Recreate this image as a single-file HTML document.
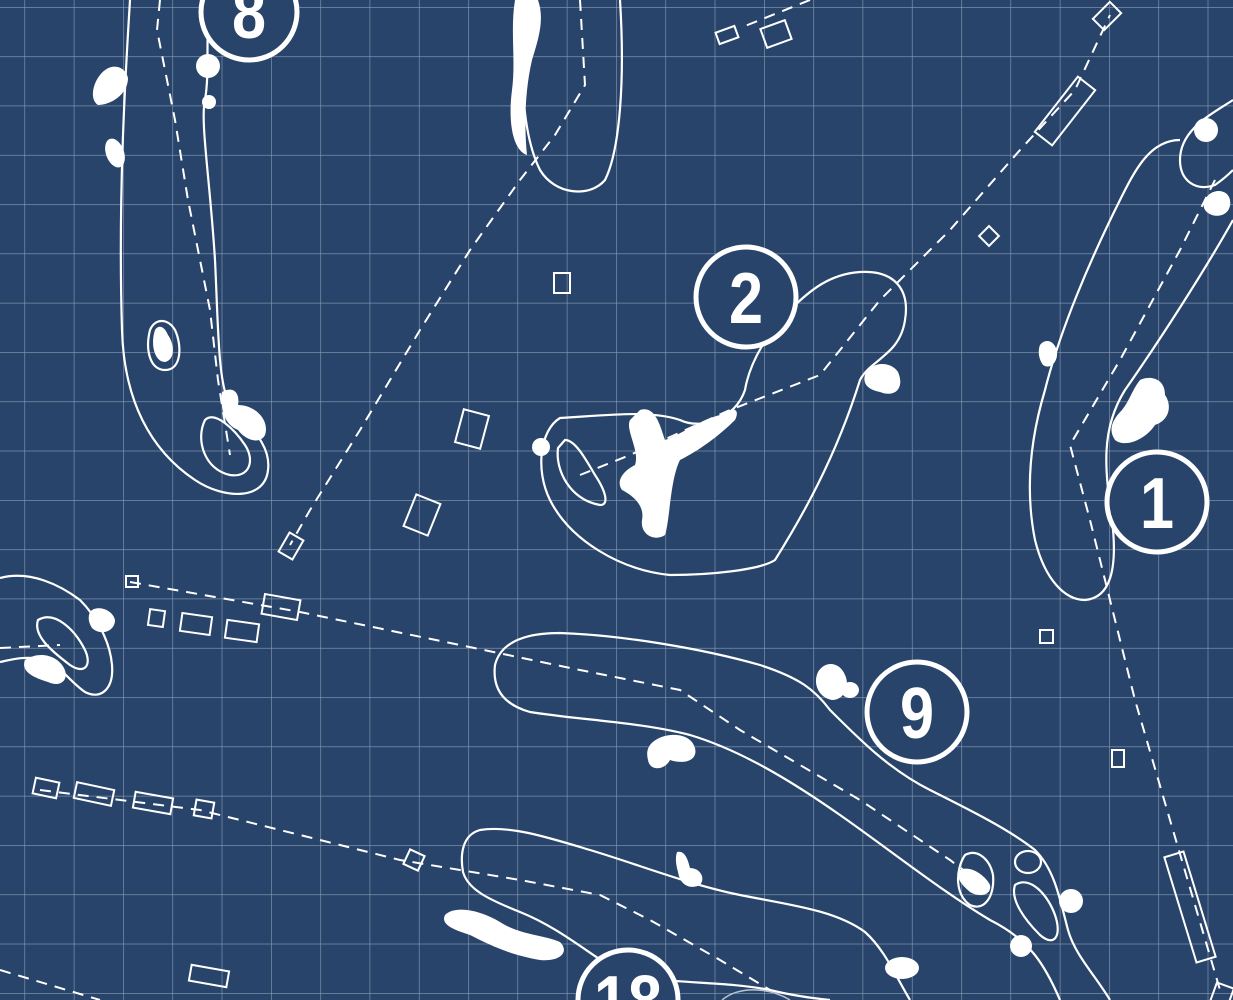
<!DOCTYPE html>
<html><head><meta charset="utf-8"><style>
html,body{margin:0;padding:0;background:#28446a;}
svg{display:block}
text{font-family:"Liberation Sans",sans-serif;font-weight:bold;fill:#fff}
</style></head><body>
<svg width="1233" height="1000" viewBox="0 0 1233 1000" xmlns="http://www.w3.org/2000/svg">
<defs>
<pattern id="g" x="24.5" y="7" width="49.3" height="49.3" patternUnits="userSpaceOnUse">
<path d="M0 0V49.3M0 0H49.3" stroke="#8c9db5" stroke-width="1.2" fill="none"/>
</pattern>
</defs>
<rect width="1233" height="1000" fill="#28446a"/>
<rect width="1233" height="1000" fill="url(#g)"/>
<g fill="none" stroke="#fff" stroke-width="2.2">
<!-- hole 8 -->
<path d="M130 0 C125 80 118 200 122 330 C124 400 150 450 195 480 C225 500 265 500 268 470 C272 440 240 420 228 400 C218 380 218 320 215 260 C210 180 200 120 205 100 C210 70 205 40 210 0"/>
<path d="M205 420 C195 440 205 470 230 475 C250 478 255 460 245 445 C235 430 215 410 205 420Z"/>
<path d="M150 330 C145 350 150 370 165 370 C182 370 182 345 175 330 C168 318 155 318 150 330Z"/>
<!-- hole top middle -->
<path d="M525 0 C520 60 520 130 540 170 C555 195 590 198 605 180 C620 150 625 80 620 0"/>
<!-- hole 2 -->
<path d="M560 418 C540 430 535 470 550 500 C570 540 620 570 670 575 C710 575 760 570 775 560 C800 520 835 460 860 380 C870 360 900 355 905 320 C910 290 895 270 860 272 C830 274 810 290 790 310 C770 330 750 360 745 390 C735 420 700 430 680 420 C650 410 610 415 560 418Z"/>
<path d="M558 448 C555 470 570 500 600 505 C610 505 605 490 595 475 C585 458 575 440 565 440 Z"/>
<!-- hole 1 -->
<path d="M1180 140 C1150 140 1135 170 1120 200 C1090 260 1060 330 1045 390 C1030 440 1025 490 1035 540 C1045 580 1065 600 1085 600 C1110 598 1118 570 1112 520 C1105 470 1100 430 1125 390 C1160 340 1205 270 1233 220"/>
<path d="M1233 100 C1210 115 1180 130 1180 160 C1180 180 1195 192 1215 185 C1225 178 1233 170 1233 170"/>
<!-- left hole -->
<path d="M0 578 C30 570 60 585 80 600 C95 615 110 640 112 665 C114 690 100 700 85 692 C70 682 60 665 45 660 C25 655 10 660 0 662"/>
<path d="M38 620 C33 635 50 650 70 665 C85 675 92 665 85 650 C75 630 55 610 38 620Z"/>
<!-- hole 9 -->
<path d="M1110 1000 C1095 975 1075 955 1068 930 C1060 900 1055 870 1035 850 C1010 830 970 810 930 790 C890 770 860 740 830 710 C815 690 800 678 760 665 C700 648 620 635 560 633 C520 633 500 645 495 665 C492 690 505 705 530 712 C580 720 640 722 690 735 C740 750 790 780 840 815 C890 850 940 890 990 920 C1030 940 1045 965 1060 1000"/>
<path d="M965 855 C955 870 955 895 970 905 C985 912 995 895 993 875 C990 860 978 848 965 855Z"/>
<path d="M1015 885 C1010 900 1025 920 1040 935 C1055 948 1062 935 1055 915 C1048 895 1030 875 1015 885Z"/>
<ellipse cx="1028" cy="862" rx="13" ry="11"/>
<!-- hole 18 -->
<path d="M910 1000 C895 975 885 950 865 932 C835 910 790 905 740 895 C690 885 640 865 590 850 C550 838 510 825 480 830 C462 835 460 855 463 872 C468 890 490 900 520 912 C560 928 590 955 620 972 C660 985 720 980 770 990 C790 995 810 998 830 1000"/>
<path d="M722 1000 C740 985 770 988 790 1000" stroke="#b8c4d4" stroke-width="1.5"/>
</g>
<!-- white blobs -->
<g fill="#fff">
<path d="M100 75 C110 62 125 65 128 78 C128 95 110 105 98 105 C90 100 92 85 100 75Z"/>
<ellipse cx="115" cy="153" rx="9" ry="15" transform="rotate(-20 115 153)"/>
<circle cx="208" cy="66" r="12"/><circle cx="209" cy="102" r="7"/>
<path d="M515 0 L538 0 C545 20 538 40 532 60 C525 90 524 125 527 155 C512 150 508 120 512 90 C516 60 510 30 515 0Z"/>
<path d="M155 330 C150 345 155 362 165 362 C175 360 175 345 168 335 C164 325 158 325 155 330Z" />
<path d="M222 392 C235 385 240 395 238 405 C255 405 270 420 265 435 C260 445 245 440 238 430 C225 425 220 410 222 392Z"/>
<path d="M640 410 C655 405 660 425 665 440 C680 435 700 420 720 415 C735 405 740 410 735 420 C720 435 700 450 680 460 C670 480 670 520 665 535 C655 542 640 535 642 520 C645 505 632 495 622 490 C615 480 625 470 635 465 C640 450 625 430 630 420Z"/>
<circle cx="541" cy="447" r="9"/>
<path d="M865 375 C870 362 890 360 898 372 C905 388 895 398 880 392 C870 390 862 385 865 375Z"/>
<path d="M1040 345 C1045 338 1055 340 1057 352 C1058 362 1050 370 1043 365 C1038 358 1038 350 1040 345Z"/>
<path d="M1140 380 C1150 375 1165 378 1165 395 C1172 405 1170 420 1155 425 C1145 440 1125 448 1115 440 C1108 430 1112 420 1122 410 C1130 400 1132 390 1140 380Z"/>
<circle cx="1206" cy="130" r="12"/>
<path d="M1205 200 C1210 188 1228 188 1230 200 C1232 212 1222 218 1212 215 C1204 212 1202 206 1205 200Z"/>
<path d="M90 612 C95 605 112 608 115 620 C115 632 100 636 92 628 C88 622 88 616 90 612Z"/>
<path d="M25 660 C40 650 58 656 64 668 C70 680 60 688 48 682 C35 678 20 672 25 660Z"/>
<path d="M818 672 C825 660 840 662 845 675 C850 685 845 700 832 700 C820 698 812 685 818 672Z"/>
<ellipse cx="850" cy="690" rx="9" ry="8"/>
<path d="M650 745 C660 732 690 730 695 748 C698 760 685 765 670 760 C665 770 650 772 648 760 C646 752 648 748 650 745Z"/>
<path d="M677 852 C685 850 688 860 690 868 C700 868 706 878 700 885 C690 890 680 885 678 872 C676 865 675 858 677 852Z"/>
<circle cx="1071" cy="901" r="12"/><circle cx="1021" cy="946" r="11"/>
<ellipse cx="902" cy="968" rx="17" ry="11"/>
<path d="M445 915 C455 905 480 910 500 922 C520 935 545 935 560 942 C570 952 560 962 540 960 C510 955 490 945 470 935 C455 930 440 925 445 915Z"/>
<path d="M960 870 C970 865 985 875 990 885 C992 895 980 898 970 892 C962 885 955 878 960 870Z"/>
</g>
<!-- dashed center lines -->
<g fill="none" stroke="#fff" stroke-width="2" stroke-dasharray="11 8">
<path d="M160 0 L157 30 L175 120 L188 200 L210 310 L218 380 L230 455"/>
<path d="M580 0 L585 85 L555 135 L520 180 L470 250 L420 330 L360 430 L310 510 L290 545"/>
<path d="M580 475 L630 455 L730 410 L820 375 L880 300 L950 230 L1020 150 L1075 90 L1110 15"/>
<path d="M1215 180 L1180 250 L1120 360 L1070 445 L1090 520 L1110 600 L1135 700 L1170 820 L1220 990"/>
<path d="M0 648 L60 645"/>
<path d="M130 582 L300 612 L460 645 L580 670 L680 690 L740 730 L860 800 L950 860 L990 890"/>
<path d="M40 790 L200 810 L400 860 L520 880 L600 895 L650 920 L720 960 L770 990"/>
<path d="M0 970 L100 1000"/>
<path d="M810 0 L740 28"/>
</g>
<!-- tee boxes -->
<g fill="none" stroke="#fff" stroke-width="2">
<rect x="717" y="29" width="20" height="12" transform="rotate(-20 727 35)"/>
<rect x="763" y="24" width="26" height="20" transform="rotate(-20 776 34)"/>
<rect x="1095" y="8" width="24" height="16" transform="rotate(-45 1107 16)"/>
<rect x="1030" y="100" width="70" height="22" transform="rotate(-52 1065 111)"/>
<rect x="982" y="229" width="14" height="14" transform="rotate(-45 989 236)"/>
<rect x="554" y="273" width="16" height="20"/>
<rect x="459" y="412" width="26" height="34" transform="rotate(15 472 429)"/>
<rect x="409" y="498" width="26" height="34" transform="rotate(22 422 515)"/>
<rect x="283" y="535" width="16" height="22" transform="rotate(30 291 546)"/>
<rect x="126" y="576" width="12" height="11"/>
<rect x="263" y="597" width="36" height="20" transform="rotate(10 281 607)"/>
<rect x="149" y="610" width="15" height="16" transform="rotate(8 156 618)"/>
<rect x="181" y="615" width="30" height="18" transform="rotate(8 196 624)"/>
<rect x="226" y="622" width="32" height="18" transform="rotate(8 242 631)"/>
<rect x="1040" y="630" width="13" height="13"/>
<rect x="1112" y="750" width="12" height="17"/>
<rect x="34" y="780" width="24" height="16" transform="rotate(12 46 788)"/>
<rect x="75" y="786" width="38" height="16" transform="rotate(12 94 794)"/>
<rect x="134" y="795" width="38" height="16" transform="rotate(10 153 803)"/>
<rect x="195" y="801" width="18" height="16" transform="rotate(10 204 809)"/>
<rect x="406" y="852" width="16" height="16" transform="rotate(25 414 860)"/>
<rect x="1180" y="852" width="20" height="110" transform="rotate(-17 1190 907)"/>
<rect x="190" y="968" width="38" height="16" transform="rotate(10 209 976)"/>
<rect x="1213" y="985" width="18" height="20" transform="rotate(20 1222 995)"/>
</g>
<!-- hole number circles -->
<g stroke="#fff" stroke-width="5" fill="#28446a">
<circle cx="249" cy="12" r="48"/>
<circle cx="746" cy="297" r="50"/>
<circle cx="1157" cy="502" r="50"/>
<circle cx="917" cy="712" r="50"/>
<circle cx="628" cy="1000" r="50"/>
</g>
<g font-size="72" text-anchor="middle">
<text x="249" y="38" transform="translate(249 0) scale(0.85 1) translate(-249 0)">8</text>
<text x="746" y="323" transform="translate(746 0) scale(0.85 1) translate(-746 0)">2</text>
<text x="1157" y="528" transform="translate(1157 0) scale(0.85 1) translate(-1157 0)">1</text>
<text x="917" y="738" transform="translate(917 0) scale(0.85 1) translate(-917 0)">9</text>
<text x="628" y="1026" transform="translate(628 0) scale(0.85 1) translate(-628 0)">18</text>
</g>
</svg>
</body></html>
